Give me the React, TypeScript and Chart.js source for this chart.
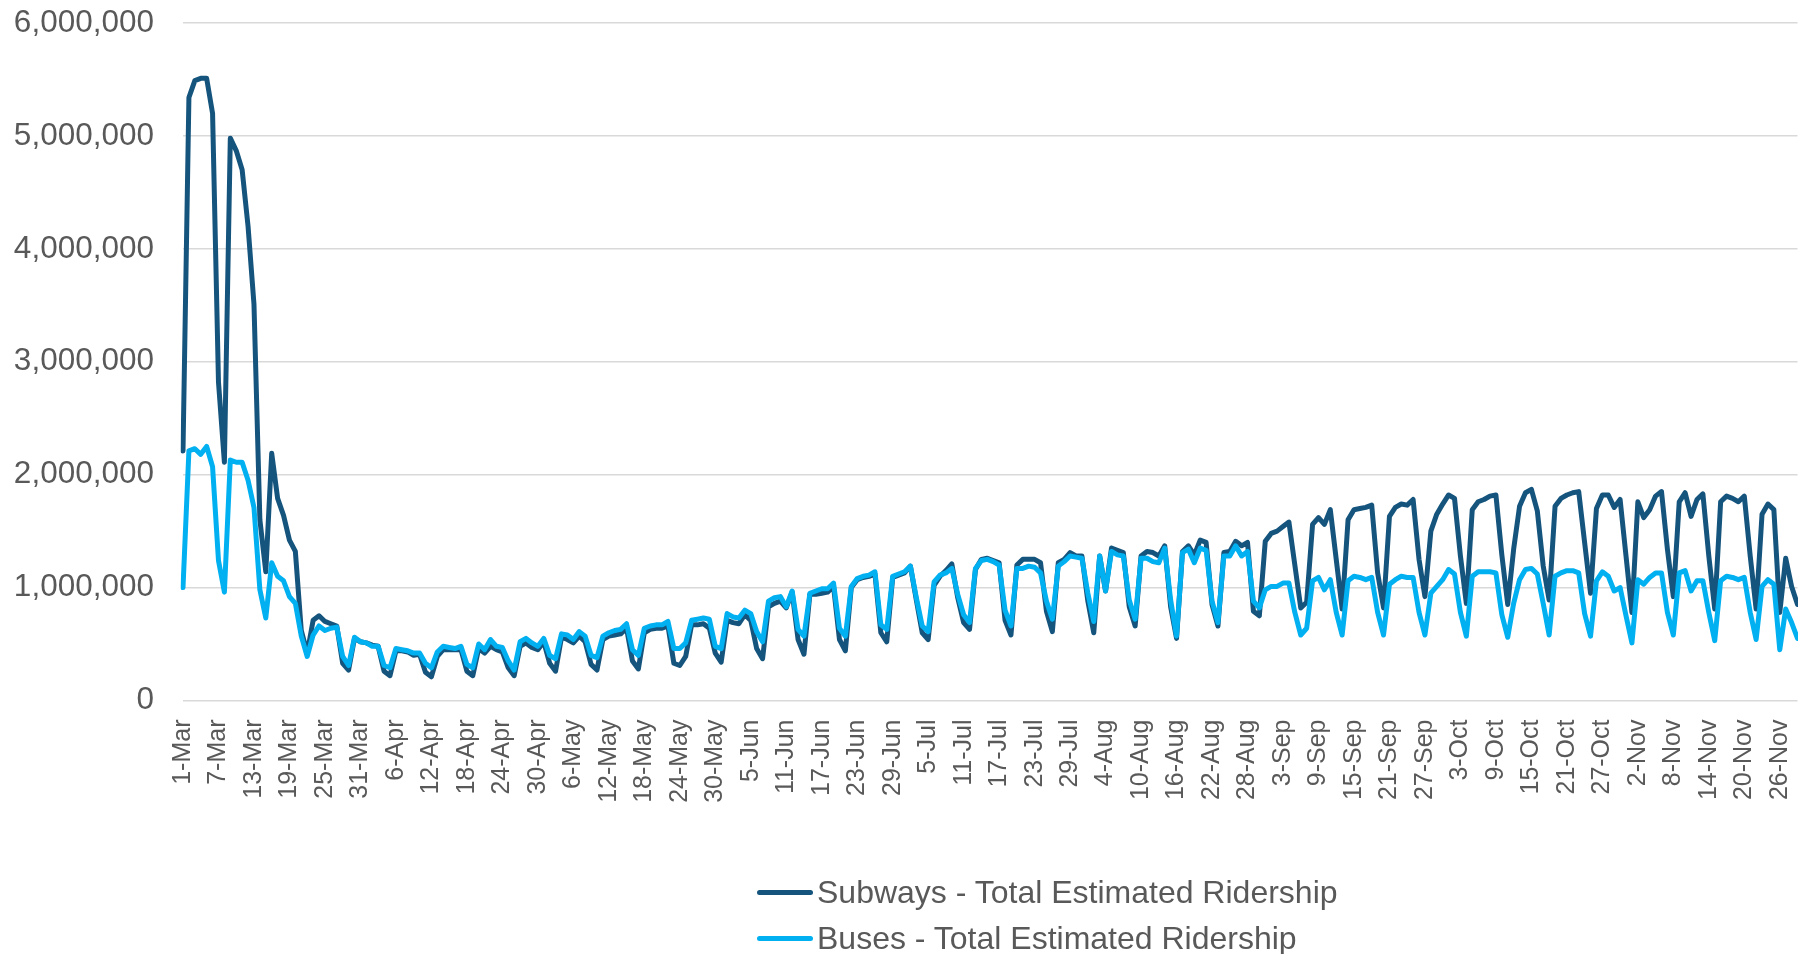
import React, { useEffect, useRef } from 'react';
import { Chart, registerables } from 'chart.js';

Chart.register(...registerables);

const FONT = '"Liberation Sans", Arial, Helvetica, sans-serif';
const TEXT_COLOR = '#595959';
const GRID_COLOR = '#D9D9D9';
const SUBWAY_COLOR = '#15547D';
const BUS_COLOR = '#00B0F0';

// Categories: daily, 1-Mar to 29-Nov (2020)
const months = ['Mar', 'Apr', 'May', 'Jun', 'Jul', 'Aug', 'Sep', 'Oct', 'Nov'];
const daysShown = [31, 30, 31, 30, 31, 31, 30, 31, 29];
const labels: string[] = months.flatMap((m, i) =>
  Array.from({ length: daysShown[i] }, (_, d) => `${d + 1}-${m}`)
);

// Y tick values
const yTicks = [0, 1000000, 2000000, 3000000, 4000000, 5000000, 6000000];

// Subways - Total Estimated Ridership (thousands), by month
const subwaysMar = [2210, 5340, 5490, 5510, 5510, 5200, 2820, 2110, 4980, 4870, 4700, 4200, 3510, 1600, 1140, 2190, 1790, 1640, 1420, 1320, 620, 420, 710, 750, 700, 680, 660, 330, 270, 550, 520];
const subwaysApr = [510, 490, 480, 260, 220, 440, 440, 430, 400, 410, 250, 210, 390, 450, 450, 450, 450, 260, 220, 460, 420, 480, 450, 430, 290, 220, 480, 510, 470, 450];
const subwaysMay = [520, 330, 260, 560, 540, 510, 570, 520, 320, 270, 540, 570, 580, 590, 640, 350, 280, 600, 630, 640, 640, 660, 330, 310, 390, 670, 670, 680, 640, 420, 340];
const subwaysJun = [710, 690, 680, 760, 710, 460, 370, 830, 860, 880, 820, 960, 540, 410, 940, 940, 950, 960, 1010, 540, 440, 1000, 1070, 1090, 1100, 1120, 600, 520, 1090, 1110];
const subwaysJul = [1130, 1190, 890, 600, 540, 1020, 1100, 1150, 1210, 910, 690, 630, 1160, 1250, 1260, 1240, 1220, 710, 580, 1200, 1250, 1250, 1250, 1220, 790, 610, 1220, 1250, 1310, 1280, 1280];
const subwaysAug = [880, 600, 1280, 970, 1350, 1330, 1310, 830, 660, 1280, 1320, 1310, 1280, 1370, 830, 550, 1320, 1370, 1290, 1420, 1400, 850, 660, 1310, 1320, 1410, 1370, 1400, 790, 750, 1410];
const subwaysSep = [1480, 1500, 1540, 1580, 1200, 820, 870, 1560, 1620, 1560, 1690, 1250, 810, 1600, 1690, 1700, 1710, 1730, 1130, 820, 1630, 1710, 1740, 1730, 1780, 1250, 920, 1500, 1650, 1740];
const subwaysOct = [1820, 1790, 1280, 860, 1690, 1760, 1780, 1810, 1820, 1290, 850, 1340, 1720, 1840, 1870, 1680, 1190, 890, 1720, 1790, 1820, 1840, 1850, 1400, 950, 1700, 1820, 1820, 1710, 1780, 1280];
const subwaysNov = [780, 1760, 1620, 1690, 1810, 1850, 1340, 920, 1760, 1840, 1630, 1780, 1830, 1280, 810, 1760, 1810, 1790, 1760, 1810, 1280, 810, 1650, 1740, 1690, 780, 1260, 1010, 850];

// Buses - Total Estimated Ridership (thousands), by month
const busesMar = [1000, 2210, 2230, 2180, 2250, 2070, 1240, 960, 2130, 2110, 2110, 1950, 1710, 980, 730, 1220, 1100, 1060, 920, 860, 570, 390, 580, 660, 620, 640, 650, 390, 310, 560, 520];
const busesApr = [510, 480, 480, 310, 290, 460, 450, 440, 420, 420, 330, 290, 430, 480, 470, 460, 480, 320, 290, 500, 450, 540, 480, 470, 350, 270, 520, 550, 510, 480];
const busesMay = [550, 400, 370, 590, 580, 540, 610, 570, 400, 380, 570, 600, 620, 630, 680, 450, 400, 640, 660, 670, 670, 700, 460, 460, 510, 710, 720, 730, 720, 480, 460];
const busesJun = [770, 740, 730, 800, 770, 610, 520, 880, 910, 920, 830, 970, 630, 570, 950, 970, 990, 990, 1040, 640, 570, 1010, 1080, 1100, 1110, 1140, 670, 630, 1100, 1120];
const busesJul = [1140, 1190, 910, 660, 610, 1050, 1110, 1130, 1170, 940, 760, 690, 1170, 1240, 1250, 1230, 1200, 800, 660, 1170, 1170, 1190, 1180, 1130, 880, 720, 1190, 1230, 1280, 1270, 1260];
const busesAug = [950, 700, 1280, 970, 1320, 1290, 1280, 890, 720, 1260, 1260, 1230, 1220, 1350, 890, 570, 1310, 1340, 1220, 1350, 1330, 880, 690, 1280, 1280, 1370, 1280, 1320, 880, 820, 980];
const busesSep = [1010, 1010, 1040, 1040, 780, 580, 640, 1060, 1090, 980, 1070, 780, 580, 1060, 1100, 1090, 1070, 1090, 780, 580, 1030, 1070, 1100, 1090, 1090, 780, 580, 950, 1010, 1070];
const busesOct = [1160, 1120, 780, 570, 1100, 1140, 1140, 1140, 1130, 760, 560, 860, 1070, 1160, 1170, 1120, 860, 580, 1100, 1130, 1150, 1150, 1130, 770, 570, 1060, 1140, 1100, 970, 1000, 750];
const busesNov = [510, 1070, 1030, 1090, 1130, 1130, 780, 580, 1130, 1150, 970, 1060, 1060, 780, 530, 1060, 1100, 1090, 1070, 1090, 780, 540, 1010, 1070, 1030, 450, 810, 690, 550];

const THOUSAND = 1000;
const subways = [
  ...subwaysMar, ...subwaysApr, ...subwaysMay, ...subwaysJun, ...subwaysJul,
  ...subwaysAug, ...subwaysSep, ...subwaysOct, ...subwaysNov,
].map((v) => v * THOUSAND);
const buses = [
  ...busesMar, ...busesApr, ...busesMay, ...busesJun, ...busesJul,
  ...busesAug, ...busesSep, ...busesOct, ...busesNov,
].map((v) => v * THOUSAND);

const seriesNames = ['Subways - Total Estimated Ridership', 'Buses - Total Estimated Ridership'];
const seriesColors = [SUBWAY_COLOR, BUS_COLOR];

export default function App() {
  const ref = useRef<HTMLCanvasElement>(null);

  useEffect(() => {
    if (!ref.current) return;
    const chart = new Chart(ref.current, {
      type: 'line',
      data: {
        labels,
        datasets: [
          {
            label: seriesNames[0],
            data: subways,
            borderColor: SUBWAY_COLOR,
            backgroundColor: SUBWAY_COLOR,
            borderWidth: 5,
            pointRadius: 0,
            tension: 0,
            borderJoinStyle: 'round',
            borderCapStyle: 'round',
            order: 1,
          },
          {
            label: seriesNames[1],
            data: buses,
            borderColor: BUS_COLOR,
            backgroundColor: BUS_COLOR,
            borderWidth: 5,
            pointRadius: 0,
            tension: 0,
            borderJoinStyle: 'round',
            borderCapStyle: 'round',
            order: 0,
          },
        ],
      },
      options: {
        responsive: false,
        animation: false,
        events: [],
        layout: { padding: { top: 23, right: 20, left: 0, bottom: 0 } },
        plugins: {
          legend: { display: false },
          tooltip: { enabled: false },
        },
        scales: {
          x: {
            type: 'category',
            offset: false,
            grid: { display: false },
            border: { display: false },
            ticks: {
              autoSkip: false,
              maxRotation: 90,
              minRotation: 90,
              padding: 11,
              color: TEXT_COLOR,
              font: { family: FONT, size: 25 },
              callback: (_v: any, i: number) => (i % 6 === 0 ? labels[i] : null),
            },
            afterFit: (s: any) => {
              s.height = 253.5;
            },
          },
          y: {
            min: yTicks[0],
            max: yTicks[yTicks.length - 1],
            afterBuildTicks: (s: any) => {
              s.ticks = yTicks.map((v) => ({ value: v }));
            },
            grid: { color: GRID_COLOR, lineWidth: 1.5, drawTicks: false },
            border: { display: false },
            ticks: {
              padding: 29,
              color: TEXT_COLOR,
              font: { family: FONT, size: 31.5 },
              callback: (v: any) => Number(v).toLocaleString('en-US'),
            },
            afterFit: (s: any) => {
              s.width = 183;
              s.paddingTop = 0;
              s.paddingBottom = 0;
            },
          },
        },
      },
    });
    return () => chart.destroy();
  }, []);

  return (
    <div
      style={{
        position: 'fixed',
        left: 0,
        top: 0,
        width: 1798,
        height: 954,
        overflow: 'hidden',
        background: '#ffffff',
      }}
    >
      <canvas ref={ref} width={1821} height={954} style={{ position: 'absolute', left: 0, top: 0 }} />
      {seriesNames.map((name, i) => (
        <div
          key={name}
          style={{
            position: 'absolute',
            left: 757,
            top: 869 + i * 46,
            height: 46,
            display: 'flex',
            alignItems: 'center',
            whiteSpace: 'nowrap',
          }}
        >
          <span
            style={{
              display: 'inline-block',
              width: 56,
              height: 5,
              borderRadius: 3,
              background: seriesColors[i],
              marginRight: 4,
            }}
          />
          <span style={{ fontFamily: FONT, fontSize: 32, color: TEXT_COLOR, lineHeight: '46px' }}>{name}</span>
        </div>
      ))}
    </div>
  );
}
